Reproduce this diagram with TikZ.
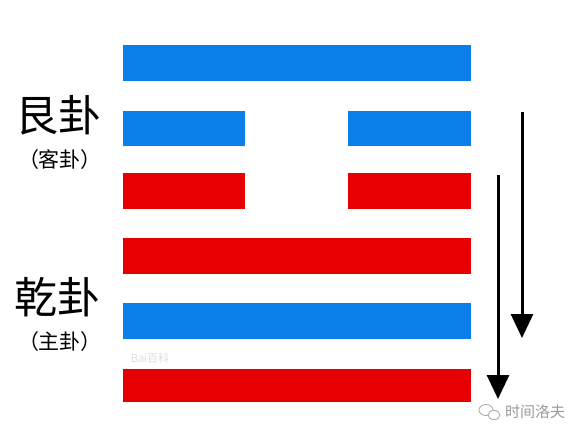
\documentclass[tikz,border=0pt]{standalone}
\usepackage{fontspec}
\newfontfamily\cjk{Noto Sans CJK SC}
\usetikzlibrary{arrows.meta}
\definecolor{yaoblue}{HTML}{0A7FEA}
\definecolor{yaored}{HTML}{E60000}
\begin{document}
\begin{tikzpicture}[x=1pt,y=-1pt,
  bar/.style={fill=#1,draw=none},
  bigtxt/.style={font=\cjk\fontsize{43}{43}\selectfont,inner sep=0pt},
  smalltxt/.style={font=\cjk\fontsize{21}{21}\selectfont,inner sep=0pt},
  timearrow/.style={line width=3pt,-{Triangle[length=24pt,width=22pt]}},
  wm/.style={font=\cjk\fontsize{15}{15}\selectfont,text=gray!80,inner sep=0pt}]
\useasboundingbox (0,0) rectangle (579,440);
\fill[white] (0,0) rectangle (579,440);
% bars (top to bottom)
\fill[bar=yaoblue] (123,45) rectangle (471,81);
\fill[bar=yaoblue] (123,111) rectangle (245,146);
\fill[bar=yaoblue] (348,111) rectangle (471,146);
\fill[bar=yaored] (123,173) rectangle (245,209);
\fill[bar=yaored] (348,173) rectangle (471,209);
\fill[bar=yaored] (123,238) rectangle (471,274);
\fill[bar=yaoblue] (123,303) rectangle (471,339);
\fill[bar=yaored] (123,369) rectangle (471,402);
% labels
\node[bigtxt] (gen) at (59,115) {艮卦};
\node[smalltxt] (ke) at (60,160) {（客卦）};
\node[bigtxt] (qian) at (58,297) {乾卦};
\node[smalltxt] (zhu) at (60,342) {（主卦）};
% arrows
\coordinate (a1s) at (522,112);
\coordinate (a1e) at (522,338);
\coordinate (a2s) at (498,175);
\coordinate (a2e) at (498,399);
\draw[timearrow] (a1s) -- (a1e);
\draw[timearrow] (a2s) -- (a2e);
% watermarks
\node[font=\cjk\fontsize{11}{11}\selectfont,text=gray!25,inner sep=0pt] (baidu) at (150,358) {Bai百科};
\node[wm,anchor=west] (wx) at (505,412) {时间洛夫};
\draw[gray!70,line width=0.8pt] (486,410) ellipse (7pt and 5.5pt);
\draw[gray!70,line width=0.8pt,fill=white] (494,415) ellipse (6pt and 4.5pt);
\end{tikzpicture}
\end{document}
